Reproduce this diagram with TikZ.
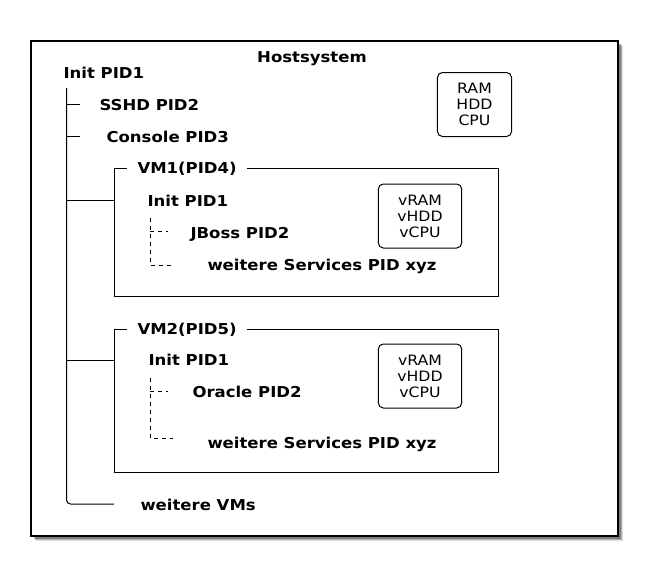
\documentclass[tikz,border=0pt]{standalone}
\usepackage{fontspec}
\newfontfamily\hostfont[FakeStretch=1.1]{DejaVu Sans}
\tikzset{
  lbl/.style={anchor=base west,inner sep=0pt,font=\hostfont\fontsize{15}{16}\selectfont\bfseries},
  vmtitle/.style={lbl,inner xsep=10pt,inner ysep=0pt},
  res/.style={draw,rounded corners=5pt,align=center,inner xsep=19pt,minimum height=64pt,
    font=\hostfont\fontsize{14.3}{16}\selectfont},
  dashtree/.style={dash pattern=on 4pt off 4pt}
}
\begin{document}
\begin{tikzpicture}[x=1pt,y=-1pt,line width=1pt]
\useasboundingbox (0,0) rectangle (648,576);

% Hostsystem frame with shadow
\foreach \s/\o in {5/0.12,4/0.2,3/0.3}
  \fill[black,opacity=\o] (31+\s,41+\s) rectangle (618+\s,536+\s);
\draw[fill=white,line width=1.1pt] (31,41) rectangle (618,536);
\node[lbl,anchor=base] (host) at (312,62) {Hostsystem};
\node[res] (hostres) at (474.5,104.5) {RAM\\HDD\\CPU};

% Prozessbaum Host
\node[lbl] (init) at (63,78) {Init PID1};
\node[lbl] (sshd) at (99,110) {SSHD PID2};
\node[lbl] (console) at (106,142) {Console PID3};
\coordinate (trunk) at (66.5,88);
\coordinate (trunkend) at (114,504);
\draw[rounded corners=4pt] (trunk) |- (trunkend);
\draw (trunk |- 0,104) -- ++(13,0);
\draw (trunk |- 0,136) -- ++(13,0);
\node[lbl] (morevms) at (140,510) {weitere VMs};

% VM1
\node[vmtitle] (vm1) at (127,173) {VM1(PID4)};
\draw (vm1.east) -| (498,296) -| ([xshift=-13pt]vm1.west) -- (vm1.west);
\draw (trunk |- 0,200) -- (114,200);
\node[lbl] (vm1init) at (147,206.5) {Init PID1};
\node[lbl] (jboss) at (190,238.5) {JBoss PID2};
\node[lbl] (vm1more) at (207,270) {weitere Services PID xyz};
\draw[dashtree] (150,218) |- (173,265);
\draw[dashtree] (150,231) -- (168,231);
\node[res] (vm1res) at (420,216) {vRAM\\vHDD\\vCPU};

% VM2
\node[vmtitle] (vm2) at (127,334) {VM2(PID5)};
\draw (vm2.east) -| (498,472) -| ([xshift=-13pt]vm2.west) -- (vm2.west);
\draw (trunk |- 0,360.5) -- (114,360.5);
\node[lbl] (vm2init) at (148,365.5) {Init PID1};
\node[lbl] (oracle) at (192,397) {Oracle PID2};
\node[lbl] (vm2more) at (207,448) {weitere Services PID xyz};
\draw[dashtree] (150,378) |- (173,438);
\draw[dashtree] (150,391) -- (168,391);
\node[res] (vm2res) at (420,376) {vRAM\\vHDD\\vCPU};

\end{tikzpicture}
\end{document}
